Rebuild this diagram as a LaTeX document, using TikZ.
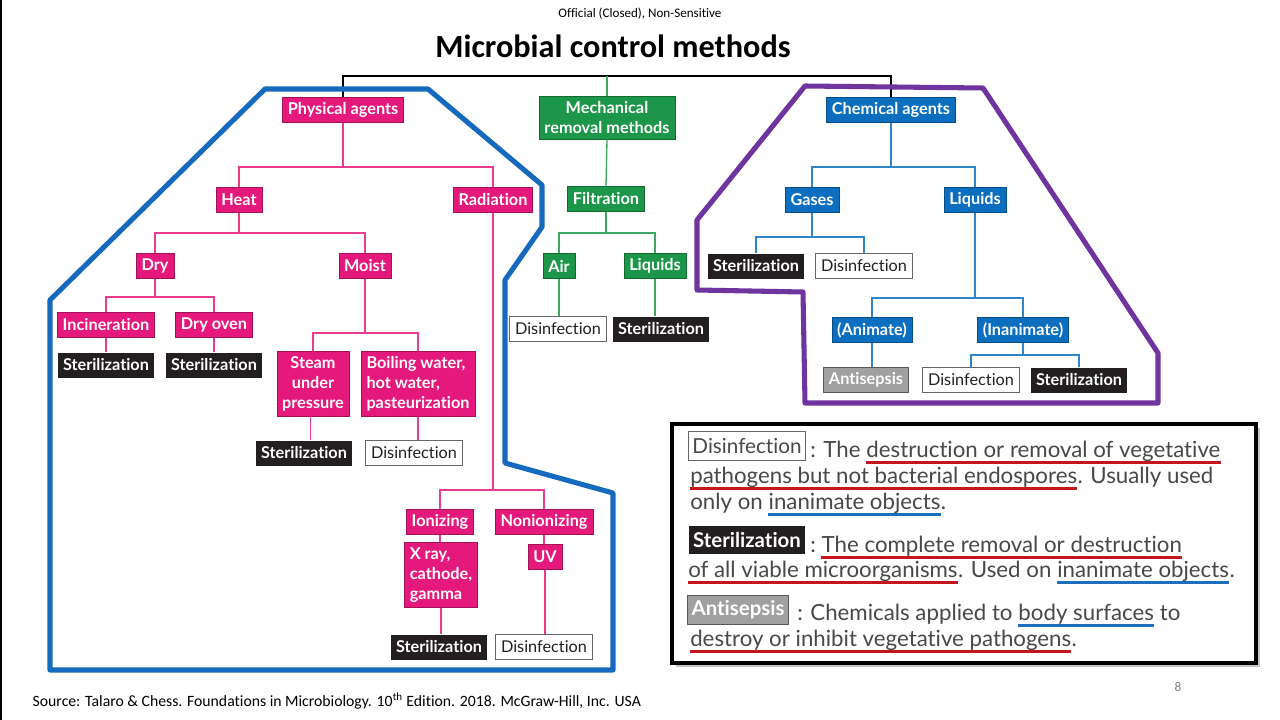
\documentclass[tikz,border=0pt]{standalone}
\usepackage{fontspec}
\newfontfamily\lato[Ligatures={NoCommon,NoContextual,NoRare}]{Lato}
\newfontfamily\calib[Ligatures={NoCommon,NoContextual,NoRare}]{Carlito}
\definecolor{physpink}{RGB}{229,24,124}
\definecolor{mechgreen}{RGB}{28,150,72}
\definecolor{chemblue}{RGB}{12,110,190}
\definecolor{boxblack}{RGB}{35,31,32}
\definecolor{antigray}{RGB}{160,160,160}
\definecolor{ringblue}{RGB}{22,106,190}
\definecolor{ringpurple}{RGB}{112,52,160}
\definecolor{deftext}{RGB}{72,72,72}
\definecolor{ulred}{RGB}{196,22,28}
\definecolor{ulblue}{RGB}{30,110,190}
\newcommand\wsp{\hspace*{0.24em}}

\tikzset{
  box/.style={inner xsep=4pt, inner ysep=3pt, minimum height=18.75pt,
    font=\lato\bfseries\fontsize{12.2}{15}\selectfont, text=white},
  pinkbox/.style={box, fill=physpink, draw=physpink!70!black, line width=0.4pt},
  greenbox/.style={box, fill=mechgreen, draw=mechgreen!70!black, line width=0.4pt},
  bluebox/.style={box, fill=chemblue, draw=chemblue!70!black, line width=0.4pt},
  sterbox/.style={box, fill=boxblack},
  disbox/.style={box, font=\lato\fontsize{12.2}{15}\selectfont, text=boxblack,
    fill=white, draw=gray!80!black, line width=0.6pt},
  antibox/.style={box, fill=antigray, draw=gray!70!black, line width=0.6pt},
  pinkline/.style={draw=physpink!85!white, line width=1pt},
  greenline/.style={draw=mechgreen!85!white, line width=1pt},
  blueline/.style={draw=chemblue!85!white, line width=1pt},
  ring/.style={line width=3.8pt, line join=round},
  keybox/.style={inner xsep=3pt, inner ysep=3pt, minimum height=21.5pt,
    font=\lato\fontsize{15.5}{18}\selectfont},
  defline/.style={anchor=base west, inner sep=0pt, text=deftext,
    font=\lato\fontsize{16.7}{19}\selectfont},
  redmark/.style={draw=ulred, line width=1.8pt},
  bluemark/.style={draw=ulblue, line width=1.8pt},
}

\begin{document}
\begin{tikzpicture}[x=0.75pt, y=-0.75pt]

\useasboundingbox (0,0) rectangle (1280,720);
\fill[white] (0,0) rectangle (1280,720);
\draw[black, line width=0.8pt] (1,0) -- (1,720);

% slide texts
\node[font=\calib\fontsize{9.8}{11}\selectfont] (classif) at (640,14) {Official (Closed), Non-Sensitive};
\node[font=\calib\bfseries\fontsize{24.2}{28}\selectfont] (title) at (613,46) {Microbial control methods};
\node[font=\calib\fontsize{11.8}{13}\selectfont, anchor=base west] (source) at (28,706)
  {Source: Talaro \& Chess. Foundations in Microbiology. 10\textsuperscript{th} Edition. 2018. McGraw-Hill, Inc. USA};
\node[font=\calib\fontsize{10}{12}\selectfont, text=gray] (pagenum) at (1178,687) {8};

% top level
\node[pinkbox] (phys) at (343,110) {Physical agents};
\node[greenbox, align=center, inner ysep=4pt] (mech) at (607,118) {Mechanical\\removal methods};
\node[bluebox] (chem) at (891,110) {Chemical agents};

% physical agents
\node[pinkbox] (heat) at (239,200) {Heat};
\node[pinkbox] (rad) at (493,200) {Radiation};
\node[pinkbox] (dry) at (155,266) {Dry};
\node[pinkbox] (moist) at (365,266) {Moist};
\node[pinkbox] (incin) at (106,325) {Incineration};
\node[pinkbox] (oven) at (214,325) {Dry oven};
\node[sterbox] (incster) at (106,365) {Sterilization};
\node[sterbox] (ovenster) at (214,365) {Sterilization};
\node[pinkbox, align=center, inner ysep=4pt] (steam) at (313,384) {Steam\\under\\pressure};
\node[pinkbox, align=left, inner ysep=4pt] (boil) at (418,384) {Boiling water,\\hot water,\\pasteurization};
\node[sterbox] (steamster) at (304,453) {Sterilization};
\node[disbox] (boildis) at (414,453) {Disinfection};
\node[pinkbox] (ion) at (440,522) {Ionizing};
\node[pinkbox] (nonion) at (544,522) {Nonionizing};
\node[pinkbox, align=left, inner ysep=4pt] (xray) at (441,575) {X ray,\\cathode,\\gamma};
\node[pinkbox] (uv) at (545,557) {UV};
\node[sterbox] (xrayster) at (439,647) {Sterilization};
\node[disbox] (uvdis) at (544,647) {Disinfection};

% mechanical removal
\node[greenbox] (filt) at (606,199) {Filtration};
\node[greenbox] (air) at (559,266) {Air};
\node[greenbox] (liqm) at (655,266) {Liquids};
\node[disbox] (airdis) at (558,329) {Disinfection};
\node[sterbox] (liqster) at (661,329) {Sterilization};

% chemical agents
\node[bluebox] (gases) at (812,200) {Gases};
\node[bluebox] (liqc) at (975,200) {Liquids};
\node[sterbox] (gasster) at (756,266) {Sterilization};
\node[disbox] (gasdis) at (864,266) {Disinfection};
\node[bluebox] (anim) at (872,330) {(Animate)};
\node[bluebox] (inan) at (1023,330) {(Inanimate)};
\node[antibox] (antis) at (866,380) {Antisepsis};
\node[disbox] (inandis) at (971,380) {Disinfection};
\node[sterbox] (inanster) at (1079,380) {Sterilization};

% bus points
\coordinate (topbus) at (606,76);
\coordinate (physbus) at (343,167);
\coordinate (heatbus) at (239,233);
\coordinate (drybus) at (155,297);
\coordinate (moistbus) at (365,333);
\coordinate (radbus) at (493,490);
\coordinate (filtbus) at (606,233);
\coordinate (chembus) at (891,167);
\coordinate (gasbus) at (812,237);
\coordinate (liqbus) at (975,298);
\coordinate (inanbus) at (1023,355);

% connectors
\draw[black, line width=1pt] (phys.north) |- (topbus) -| (chem.north);
\draw[greenline] (mech.north) -- (mech.north |- topbus);

\draw[pinkline] (phys.south) -- (physbus);
\draw[pinkline] (heat.north) |- (physbus) -| (rad.north);
\draw[pinkline] (heat.south) -- (heatbus);
\draw[pinkline] (dry.north) |- (heatbus) -| (moist.north);
\draw[pinkline] (dry.south) -- (drybus);
\draw[pinkline] (incin.north) |- (drybus) -| (oven.north);
\draw[pinkline] (incin.south) -- (incin.south |- incster.north);
\draw[pinkline] (oven.south) -- (oven.south |- ovenster.north);
\draw[pinkline] (moist.south) -- (moistbus);
\draw[pinkline] (steam.north) |- (moistbus) -| (boil.north);
\draw[pinkline] ([xshift=-2pt]steam.south) -- ([xshift=-2pt]steam.south |- steamster.north);
\draw[pinkline] (boil.south) -- (boil.south |- boildis.north);
\draw[pinkline] (rad.south) -- (radbus);
\draw[pinkline] (ion.north) |- (radbus) -| (nonion.north);
\draw[pinkline] (ion.south) -- (ion.south |- xray.north);
\draw[pinkline] (xray.south) -- (xray.south |- xrayster.north);
\draw[pinkline] (nonion.south) -- (nonion.south |- uv.north);
\draw[pinkline] (uv.south) -- (uv.south |- uvdis.north);

\draw[greenline] (mech.south) -- (filt.north);
\draw[greenline] (filt.south) -- (filtbus);
\draw[greenline] (air.north) |- (filtbus) -| (liqm.north);
\draw[greenline] (air.south) -- (air.south |- airdis.north);
\draw[greenline] (liqm.south) -- (liqm.south |- liqster.north);

\draw[blueline] (chem.south) -- (chembus);
\draw[blueline] (gases.north) |- (chembus) -| (liqc.north);
\draw[blueline] (gases.south) -- (gasbus);
\draw[blueline] (gasster.north) |- (gasbus) -| (gasdis.north);
\draw[blueline] (liqc.south) -- (liqbus);
\draw[blueline] (anim.north) |- (liqbus) -| (inan.north);
\draw[blueline] (anim.south) -- (anim.south |- antis.north);
\draw[blueline] (inan.south) -- (inanbus);
\draw[blueline] (inandis.north) |- (inanbus) -| (inanster.north);

% hand drawn outlines
\draw[ring, ringblue] (50,300) -- (265,89) -- (428,89) -- (542,185) -- (542,227)
  -- (505,280) -- (505,463) -- (613,493) -- (613,670) -- (50,670) -- cycle;
\draw[ring, ringpurple] (805,86) -- (983,88) -- (1158,353) -- (1158,403) -- (805,403)
  -- (803,292) -- (697,290) -- (697,220) -- cycle;

% definitions
\fill[gray!45] (676,428) rectangle (1260,667);
\draw[black, line width=2.6pt, fill=white] (672,424) rectangle (1256,663);

\node[keybox, draw=gray!80!black, line width=0.7pt, text=deftext] (keydis) at (747,446) {Disinfection};
\node[defline] (d1a) at (810,457) {: The\wsp};
\node[defline] (d1b) at (d1a.base east) {destruction or removal of vegetative};
\node[defline] (d2a) at (690,483) {pathogens but not bacterial endospores};
\node[defline] (d2b) at (d2a.base east) {. Usually used};
\node[defline] (d3a) at (690,509) {only on\wsp};
\node[defline] (d3b) at (d3a.base east) {inanimate objects};
\node[defline] (d3c) at (d3b.base east) {.};

\node[keybox, fill=boxblack, text=white, font=\lato\bfseries\fontsize{15.3}{18}\selectfont] (keyster) at (747,540) {Sterilization};
\node[defline] (d4a) at (810,552) {:\wsp};
\node[defline] (d4b) at (d4a.base east) {The complete removal or destruction};
\node[defline] (d5a) at (688,577) {of all viable microorganisms};
\node[defline] (d5b) at (d5a.base east) {. Used on\wsp};
\node[defline] (d5c) at (d5b.base east) {inanimate objects};
\node[defline] (d5d) at (d5c.base east) {.};

\node[keybox, fill=antigray, draw=gray!70!black, line width=0.7pt, text=white, font=\lato\bfseries\fontsize{15.3}{18}\selectfont] (keyanti) at (738,610) {Antisepsis};
\node[defline] (d6a) at (797,620) {: Chemicals applied to\wsp};
\node[defline] (d6b) at (d6a.base east) {body surfaces};
\node[defline] (d6c) at (d6b.base east) {\wsp to};
\node[defline] (d7a) at (690,646) {destroy or inhibit vegetative pathogens};
\node[defline] (d7b) at (d7a.base east) {.};

% underlines
\foreach \u in {d1b,d2a,d4b,d5a,d7a}
  \draw[redmark] ([yshift=-4pt]\u.base west) -- ([yshift=-4pt]\u.base east);
\foreach \u in {d3b,d5c,d6b}
  \draw[bluemark] ([yshift=-4pt]\u.base west) -- ([yshift=-4pt]\u.base east);

\end{tikzpicture}
\end{document}
